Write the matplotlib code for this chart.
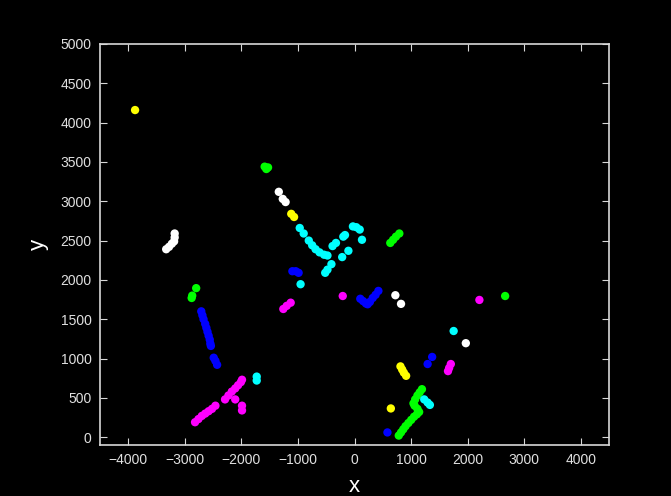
import numpy as np
import matplotlib
matplotlib.use('Agg')
import matplotlib.pyplot as plt

plt.rcParams['font.family'] = ['Liberation Sans', 'DejaVu Sans']

# Puntos por color (x, y)
yellow_x = [-3880, -1120, -1070, 640, 810, 840, 870, 910]
yellow_y = [4160, 2840, 2800, 365, 900, 860, 820, 780]

white_x = [-3180, -3180, -3190, -3230, -3280, -3330, -1340, -1270, -1220, 720, 820, 1965]
white_y = [2590, 2540, 2490, 2460, 2420, 2390, 3120, 3030, 2990, 1805, 1695, 1195]

green_x = [-1590, -1530, -1560, -2800, -2870, -2880, 630, 680, 730, 790, 2660,
           780, 820, 860, 900, 950, 1000, 1050, 1100, 1140, 1110, 1060, 1040, 1070, 1110, 1150, 1190]
green_y = [3440, 3430, 3410, 1895, 1800, 1770, 2470, 2510, 2550, 2590, 1795,
           20, 60, 100, 140, 180, 220, 260, 290, 320, 360, 400, 430, 480, 530, 570, 610]

cyan_x = [-970, -900, -810, -750, -690, -620, -540, -480, -390, -330, -200, -170, -30, 30, 90, 130,
          -520, -480, -410, -220, -110, -955, -1730, -1730, 1750, 1230, 1290, 1330]
cyan_y = [2660, 2590, 2500, 2440, 2390, 2350, 2320, 2310, 2430, 2470, 2550, 2570, 2680, 2670, 2640, 2510,
          2090, 2130, 2200, 2290, 2370, 1945, 770, 720, 1350, 480, 440, 410]

blue_x = [-2710, -2690, -2670, -2640, -2620, -2600, -2580, -2560, -2550, -2540, -2490, -2460, -2430,
          -1100, -1040, -990, 100, 150, 200, 230, 270, 320, 370, 420, 580, 1290, 1370]
blue_y = [1600, 1550, 1500, 1440, 1390, 1340, 1290, 1240, 1190, 1160, 1010, 970, 920,
          2110, 2110, 2090, 1760, 1730, 1700, 1690, 1720, 1770, 1810, 1860, 60, 930, 1020]

magenta_x = [-2820, -2760, -2700, -2640, -2580, -2520, -2460, -2290, -2230, -2170, -2110, -2060, -2010, -1990,
             -2110, -1990, -1990, -1260, -1200, -1130, -210, 2205, 1700, 1670, 1650]
magenta_y = [190, 230, 270, 300, 330, 360, 400, 480, 530, 580, 620, 660, 700, 730,
             480, 400, 340, 1630, 1670, 1710, 1795, 1745, 930, 880, 840]

series = [(yellow_x, yellow_y, '#ffff00'), (white_x, white_y, '#ffffff'),
          (green_x, green_y, '#00ff00'), (cyan_x, cyan_y, '#00ffff'),
          (blue_x, blue_y, '#0000ff'), (magenta_x, magenta_y, '#ff00ff')]

fig = plt.figure(figsize=(6.71, 4.96), dpi=100, facecolor='black')
ax = fig.add_axes([0.149, 0.1028, 0.759, 0.8085], facecolor='black')

for xs, ys, c in series:
    ax.scatter(xs, ys, s=36, color=c, edgecolors='none')

ax.set_xlim(-4500, 4500)
ax.set_ylim(-100, 5000)
ax.set_xticks(np.arange(-4000, 4001, 1000))
ax.set_yticks(np.arange(0, 5001, 500))
ax.tick_params(direction='in', length=5, color='#d8d8d8', labelcolor='#e0e0e0',
               labelsize=10, top=True, right=True, pad=6)
for s in ax.spines.values():
    s.set_color('#d8d8d8')
    s.set_linewidth(1.2)
ax.set_xlabel('x', color='white', fontsize=16, labelpad=6)
ax.set_ylabel('y', color='white', fontsize=16, labelpad=8)

fig.savefig('out.png', dpi=100, facecolor='black')
